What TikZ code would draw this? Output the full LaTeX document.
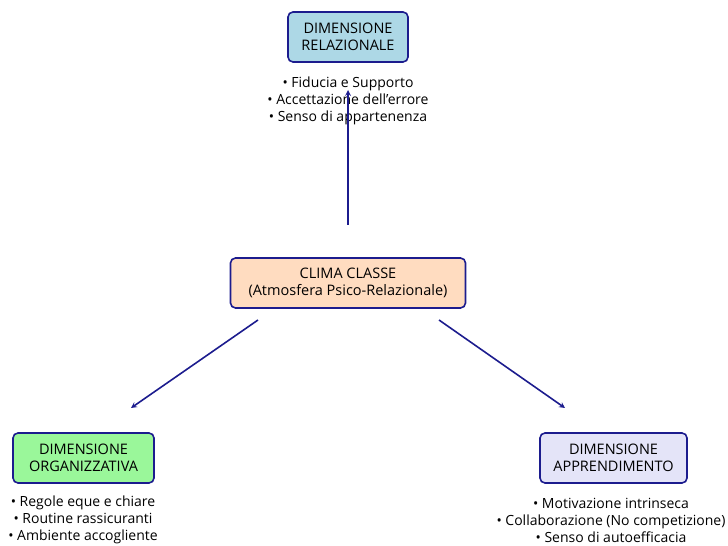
\documentclass[tikz,border=0pt]{standalone}
\usepackage{fontspec}
\setmainfont{Open Sans}
\usepackage{tikz}

\definecolor{navy}{HTML}{1C1C8E}
\definecolor{relblue}{HTML}{ADD8E6}
\definecolor{climapeach}{HTML}{FFDCC0}
\definecolor{orggreen}{HTML}{9AF79A}
\definecolor{applav}{HTML}{E4E4F8}

\begin{document}
\begin{tikzpicture}[x=1pt,y=1pt,
		dimbox/.style={rectangle, rounded corners=5pt, draw=navy, line width=1.6pt, align=center, font=\fontsize{14.5}{17}\selectfont, minimum height=50pt, inner sep=2pt},
		bullets/.style={align=center, inner sep=1pt, font=\fontsize{14}{17}\selectfont},
		link/.style={draw=navy, line width=1.6pt, ->, >=stealth}]
		
		\useasboundingbox (0,0) rectangle (728,546);
		
		% Boxes
		
		\node[dimbox, fill=relblue, minimum width=120pt]
		(relazionale) at (348,509) {DIMENSIONE\\RELAZIONALE};
		
		\node[dimbox, fill=climapeach, minimum width=235pt]
		(clima) at (348,263) {CLIMA CLASSE\\(Atmosfera Psico-Relazionale)};
		
		\node[dimbox, fill=orggreen, minimum width=141pt]
		(organizzativa) at (83.5,88) {DIMENSIONE\\ORGANIZZATIVA};
		
		\node[dimbox, fill=applav, minimum width=147pt]
		(apprendimento) at (613.5,88) {DIMENSIONE\\APPRENDIMENTO};
		
		% Lists
		
		\node[bullets] (listRel) at (348,445)
		{• Fiducia e Supporto\\• Accettazione dell'errore\\• Senso di appartenenza};
		
		\node[bullets] (listOrg) at (83,26)
		{• Regole eque e chiare\\• Routine rassicuranti\\• Ambiente accogliente};
		
		\node[bullets] (listApp) at (611,26)
		{• Motivazione intrinseca\\• Collaborazione (No competizione)\\• Senso di autoefficacia};
		
		% Arrows
		
		\coordinate (upStart) at (348,321);
		\coordinate (upEnd) at (348,456);
		\coordinate (leftStart) at (258,226);
		\coordinate (leftEnd) at (131,138);
		\coordinate (rightStart) at (439,226);
		\coordinate (rightEnd) at (565,138);
		
		\draw[link] (upStart) -- (upEnd);
		
		\draw[link] (leftStart) -- (leftEnd);
		
		\draw[link] (rightStart) -- (rightEnd);
		
	\end{tikzpicture}
\end{document}
